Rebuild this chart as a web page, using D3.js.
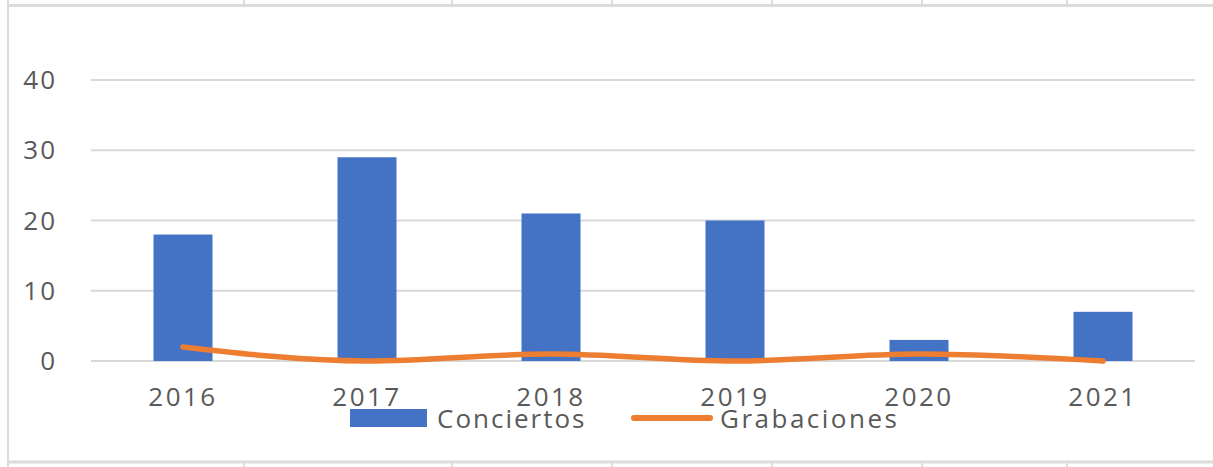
<!DOCTYPE html>
<html>
<head>
<meta charset="utf-8">
<script src="https://cdn.jsdelivr.net/npm/d3@7"></script>
<style>
  body { margin: 0; background: #fff; }
  text { font-family: "Open Sans", "DejaVu Sans", sans-serif; fill: #595959; }
</style>
</head>
<body>
<div id="chart"></div>
<script>
// data
var years = ["2016", "2017", "2018", "2019", "2020", "2021"]
var conciertos = [18, 29, 21, 20, 3, 7]
var grabaciones = [2, 0, 1, 0, 1, 0]
var yTicks = [0, 10, 20, 30, 40]
var seriesNames = ["Conciertos", "Grabaciones"]

var width = 1213
var height = 467

var svg = d3.select("#chart")
  .append("svg")
    .attr("width", width)
    .attr("height", height)

// outer frame (table cell look)
var frame = svg.append("g")
var cellX = [244, 452, 612, 772, 922, 1067]
frame.append("line").attr("x1", 8).attr("x2", width).attr("y1", 5.5).attr("y2", 5.5)
  .attr("stroke", "#dcdcdc").attr("stroke-width", 3)
frame.append("line").attr("x1", 8).attr("x2", width).attr("y1", 462).attr("y2", 462)
  .attr("stroke", "#dcdcdc").attr("stroke-width", 3)
frame.append("line").attr("x1", 8).attr("x2", 8).attr("y1", 0).attr("y2", height)
  .attr("stroke", "#dcdcdc").attr("stroke-width", 2)
cellX.forEach(function(cx){
  frame.append("line").attr("x1", cx).attr("x2", cx).attr("y1", 0).attr("y2", 5)
    .attr("stroke", "#dcdcdc").attr("stroke-width", 2)
  frame.append("line").attr("x1", cx).attr("x2", cx).attr("y1", 463).attr("y2", height)
    .attr("stroke", "#dcdcdc").attr("stroke-width", 2)
})

var plotLeft = 91, plotRight = 1195, plotTop = 80, plotBottom = 361

var x = d3.scaleBand()
  .domain(years)
  .range([plotLeft, plotRight])

var y = d3.scaleLinear()
  .domain([0, 40])
  .range([plotBottom, plotTop])

// gridlines
svg.append("g")
  .selectAll("line")
  .data(yTicks)
  .enter()
  .append("line")
    .attr("x1", plotLeft)
    .attr("x2", plotRight)
    .attr("y1", function(d){ return y(d) })
    .attr("y2", function(d){ return y(d) })
    .attr("stroke", "#d9d9d9")
    .attr("stroke-width", 2)

// y labels
svg.append("g")
  .selectAll("text")
  .data(yTicks)
  .enter()
  .append("text")
    .attr("x", 57)
    .attr("y", function(d){ return y(d) })
    .attr("dy", "0.35em")
    .attr("text-anchor", "end")
    .style("font-size", "26px")
    .style("letter-spacing", "2px")
    .text(function(d){ return d })

// bars
var barW = 59
svg.append("g")
  .selectAll("rect")
  .data(conciertos)
  .enter()
  .append("rect")
    .attr("x", function(d, i){ return x(years[i]) + x.bandwidth() / 2 - barW / 2 })
    .attr("y", function(d){ return y(d) })
    .attr("width", barW)
    .attr("height", function(d){ return plotBottom - y(d) })
    .attr("fill", "#4472C4")

// line
var line = d3.line()
  .x(function(d, i){ return x(years[i]) + x.bandwidth() / 2 })
  .y(function(d){ return y(d) })
  .curve(d3.curveMonotoneX)

svg.append("path")
  .datum(grabaciones)
  .attr("d", line)
  .attr("fill", "none")
  .attr("stroke", "#ED7D31")
  .attr("stroke-width", 5.5)
  .attr("stroke-linecap", "round")

// x labels
svg.append("g")
  .selectAll("text")
  .data(years)
  .enter()
  .append("text")
    .attr("x", function(d){ return x(d) + x.bandwidth() / 2 })
    .attr("y", 397)
    .attr("dy", "0.35em")
    .attr("text-anchor", "middle")
    .style("font-size", "26px")
    .style("letter-spacing", "2.5px")
    .text(function(d){ return d })

// legend
var legend = svg.append("g")
legend.append("rect")
  .attr("x", 350).attr("y", 409).attr("width", 77).attr("height", 18)
  .attr("fill", "#4472C4")
legend.append("text")
  .attr("x", 437).attr("y", 419).attr("dy", "0.35em")
  .style("font-size", "26px").style("letter-spacing", "2px")
  .text(seriesNames[0])
legend.append("line")
  .attr("x1", 634).attr("x2", 710).attr("y1", 418).attr("y2", 418)
  .attr("stroke", "#ED7D31").attr("stroke-width", 6).attr("stroke-linecap", "round")
legend.append("text")
  .attr("x", 720).attr("y", 419).attr("dy", "0.35em")
  .style("font-size", "26px").style("letter-spacing", "2.5px")
  .text(seriesNames[1])
</script>
</body>
</html>
